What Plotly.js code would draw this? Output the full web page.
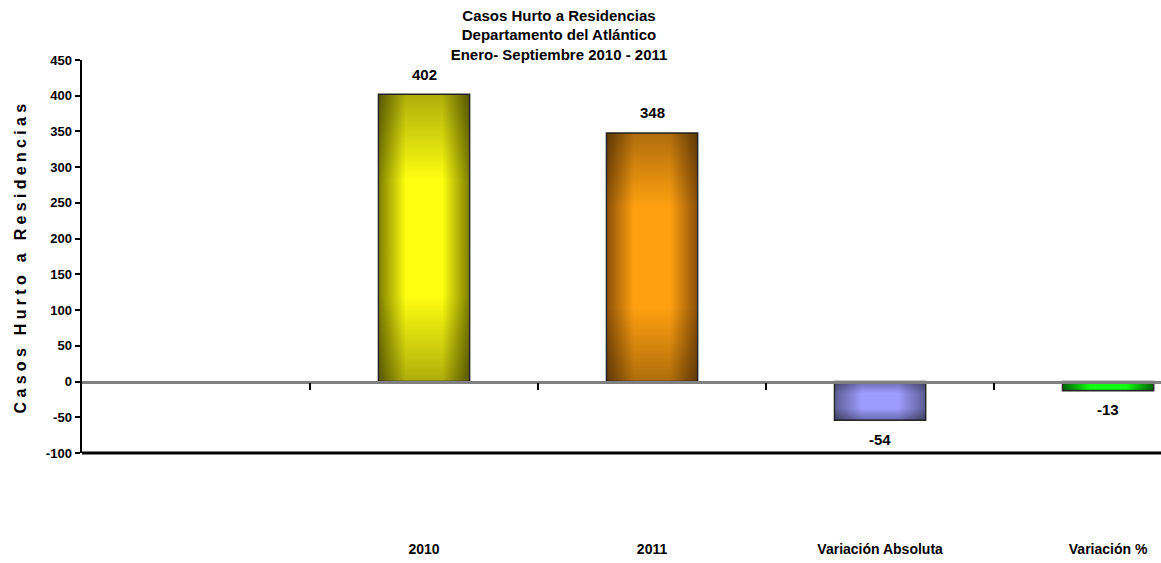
<!DOCTYPE html>
<html><head><meta charset="utf-8">
<script src="https://cdn.plot.ly/plotly-3.0.1.min.js"></script>
<style>html,body{margin:0;padding:0;background:#fff}#chart{width:1161px;height:563px}</style>
</head><body><div id="chart"></div>
<script>
const categories = ['', '2010', '2011', 'Variación Absoluta', 'Variación %'];
const values = [null, 402, 348, -54, -13];
const labels = ['', '402', '348', '-54', '-13'];
const yTickVals = [-100, -50, 0, 50, 100, 150, 200, 250, 300, 350, 400, 450];
const yTickText = ['-100', '-50', '0', '50', '100', '150', '200', '250', '300', '350', '400', '450'];
const edgeColors = ['#808000', '#7e7e00', '#8a5008', '#5c5c92', '#006000'];
const centerColors = ['#ffff00', '#ffff10', '#ffa010', '#9c9cff', '#10ff10'];
const titleLines = ['Casos Hurto a Residencias', 'Departamento del Atlántico', 'Enero- Septiembre 2010 - 2011'];
const yTitle = 'Casos Hurto a Residencias';

const narrow = '"Liberation Sans Narrow", "Arial Narrow", "Liberation Sans", sans-serif';

const xIdx = categories.map((c, i) => i);

const trace = {
  type: 'bar',
  x: xIdx,
  y: values,
  width: 0.4,
  marker: {color: centerColors, line: {color: '#2a2a2a', width: 1.5}},
  hoverinfo: 'none'
};

const annotations = xIdx.filter(i => values[i] !== null).map(i => ({
  x: i, y: values[i], xref: 'x', yref: 'y',
  text: labels[i], showarrow: false,
  yanchor: 'middle', yshift: values[i] >= 0 ? 20 : -19,
  font: {family: narrow, size: 15, color: '#000', weight: 'bold'}
}));

const layout = {
  width: 1161, height: 563,
  margin: {l: 82, r: 0, t: 60, b: 110},
  paper_bgcolor: '#fff', plot_bgcolor: '#fff',
  showlegend: false,
  title: {
    text: titleLines.join('<br>'),
    font: {family: narrow, size: 15, color: '#000', weight: 'bold'},
    x: 0.4815, xref: 'container', xanchor: 'center',
    y: 0.963, yref: 'container', yanchor: 'top'
  },
  xaxis: {
    type: 'linear',
    range: [-0.5, 4.232],
    tickmode: 'array',
    tickvals: xIdx,
    ticktext: categories,
    showgrid: false, zeroline: false,
    showline: true, linecolor: '#808080', linewidth: 3,
    anchor: 'free', position: 100 / 550,
    ticks: '',
    ticklabelstandoff: 154,
    tickfont: {family: narrow, size: 14, color: '#000', weight: 'bold'},
    fixedrange: true
  },
  xaxis2: {
    overlaying: 'x', anchor: 'free', position: 100 / 550,
    range: [-0.5, 4.232], tickmode: 'array', tickvals: [0.5, 1.5, 2.5, 3.5],
    ticks: 'outside', ticklen: 7, tickwidth: 2, tickcolor: '#000',
    showticklabels: false, showgrid: false, zeroline: false, showline: false
  },
  yaxis: {
    range: [-100, 450],
    tickmode: 'array', tickvals: yTickVals, ticktext: yTickText,
    showgrid: false, zeroline: false,
    showline: true, linecolor: '#000', linewidth: 2.5,
    ticks: 'outside', ticklen: 5, tickwidth: 2, tickcolor: '#000',
    tickfont: {family: narrow, size: 13, color: '#000', weight: 'bold'},
    title: {text: yTitle, standoff: 16, font: {family: '"Liberation Sans", Arial, sans-serif', size: 16, color: '#000', weight: 'bold'}},
    fixedrange: true
  },
  annotations: annotations,
  shapes: [{type: 'line', xref: 'paper', yref: 'paper', x0: 0, x1: 1, y0: 0, y1: 0, line: {color: '#000', width: 3}}]
};

const dummy = {type: 'scatter', x: [0], y: [0], xaxis: 'x2', mode: 'markers', marker: {opacity: 0}, hoverinfo: 'none'};

Plotly.newPlot('chart', [trace, dummy], layout, {staticPlot: true}).then(() => {
  const svg = document.querySelector('#chart svg.main-svg');
  const NS = 'http://www.w3.org/2000/svg';
  let defs = svg.querySelector('defs');
  if (!defs) { defs = document.createElementNS(NS, 'defs'); svg.insertBefore(defs, svg.firstChild); }
  function grad(id, dir, stops) {
    const g = document.createElementNS(NS, 'linearGradient');
    g.setAttribute('id', id);
    g.setAttribute('x1', '0'); g.setAttribute('y1', '0');
    g.setAttribute('x2', dir === 'h' ? '1' : '0'); g.setAttribute('y2', dir === 'h' ? '0' : '1');
    stops.forEach(s => {
      const st = document.createElementNS(NS, 'stop');
      st.setAttribute('offset', s[0]); st.setAttribute('stop-color', s[1]);
      st.setAttribute('stop-opacity', s[2] === undefined ? 1 : s[2]);
      g.appendChild(st);
    });
    defs.appendChild(g);
  }
  grad('vshade', 'v', [[0, '#000', 0.32], [0.3, '#000', 0.0], [0.7, '#000', 0.0], [1, '#000', 0.32]]);
  const points = document.querySelectorAll('#chart .barlayer .point');
  points.forEach((g, k) => {
    const p = g.querySelector('path');
    if (!p) return;
    const d = g.__data__;
    const i = (d && typeof d.i === 'number') ? d.i : k;
    if (values[i] === null) return;
    const id = 'hg' + i;
    grad(id, 'h', [[0, edgeColors[i]], [0.3, centerColors[i]], [0.5, centerColors[i]], [0.7, centerColors[i]], [1, edgeColors[i]]]);
    p.style.fill = 'url(#' + id + ')';
    const c = p.cloneNode(true);
    c.style.fill = 'url(#vshade)';
    c.style.stroke = 'none';
    g.appendChild(c);
  });
  const yt = document.querySelector('#chart .ytitle');
  if (yt) { yt.style.letterSpacing = '4.3px'; }
});
</script></body></html>
